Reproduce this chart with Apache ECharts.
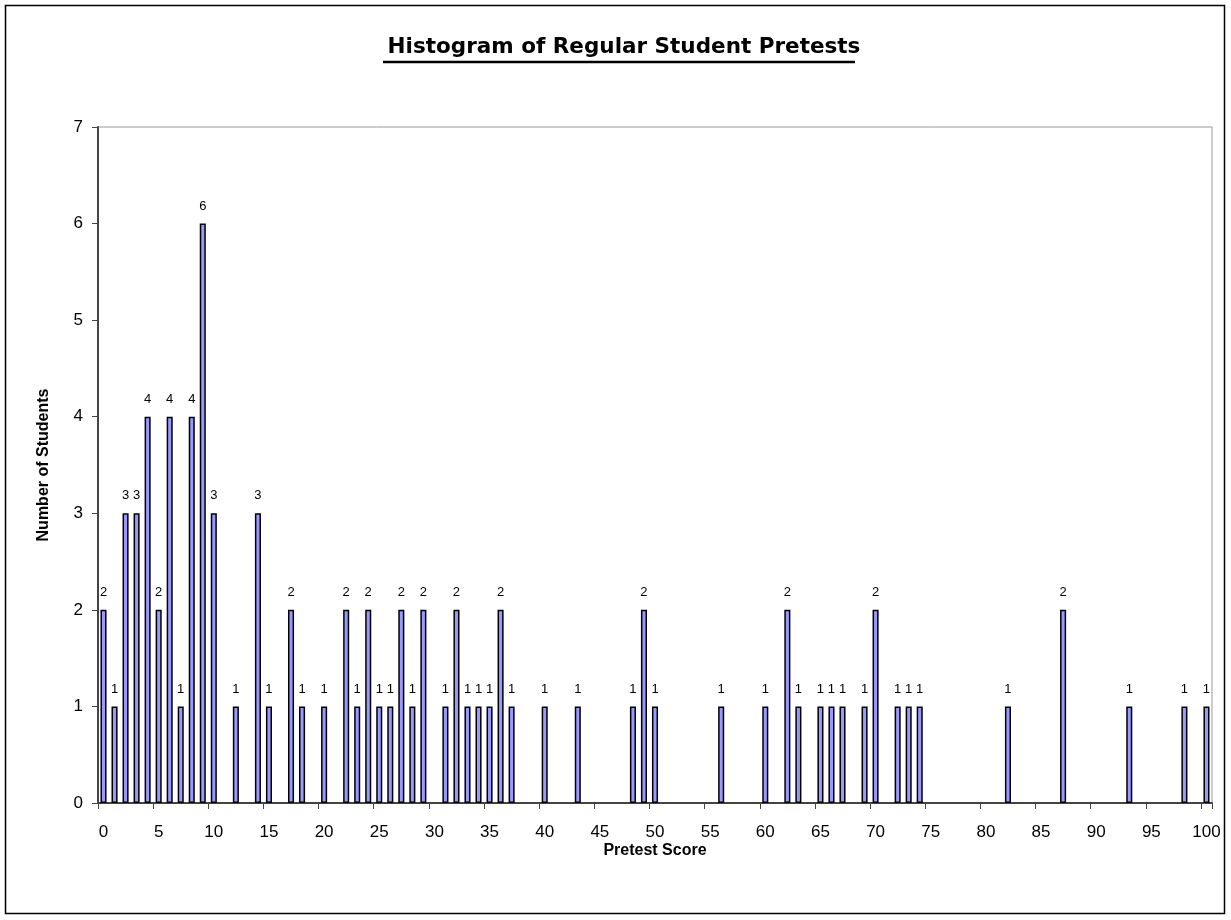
<!DOCTYPE html>
<html>
<head>
<meta charset="utf-8">
<script src="https://cdn.jsdelivr.net/npm/echarts@6/dist/echarts.min.js"></script>
<style>
html,body{margin:0;padding:0;background:#fff;}
#c{width:1231px;height:920px;}
</style>
</head>
<body>
<div id="c"></div>
<script>
// Pretest scores that occur, and how many students got each
var scores = [0,1,2,3,4,5,6,7,8,9,10,12,14,15,17,18,20,22,23,24,25,26,27,28,29,31,32,33,34,35,36,37,40,43,48,49,50,56,60,62,63,65,66,67,69,70,72,73,74,82,87,93,98,100];
var counts = [2,1,3,3,4,2,4,1,4,6,3,1,3,1,2,1,1,2,1,2,1,1,2,1,2,1,2,1,1,1,2,1,1,1,1,2,1,1,1,2,1,1,1,1,1,2,1,1,1,1,2,1,1,1];
var scoreMin = 0, scoreMax = 100;
var yTicks = [0,1,2,3,4,5,6,7];

var categories = [];
var values = [];
for (var s = scoreMin; s <= scoreMax; s++) {
  categories.push(String(s));
  var idx = scores.indexOf(s);
  values.push(idx >= 0 ? counts[idx] : '-');
}

var FONT = '"Liberation Sans", Arial, sans-serif';
var chart = echarts.init(document.getElementById('c'));
chart.setOption({
  animation: false,
  backgroundColor: '#fff',
  title: {
    text: 'Histogram of Regular Student Pretests',
    left: 619, top: 31, textAlign: 'center',
    textStyle: {fontFamily: '"DejaVu Sans", sans-serif', fontSize: 21.5, fontWeight: 'bold', color: '#000'}
  },
  grid: {left: 98, right: 19, top: 127, bottom: 117, show: true, borderColor: '#999', borderWidth: 1, backgroundColor: 'transparent'},
  xAxis: {
    type: 'category',
    data: categories,
    boundaryGap: true,
    name: 'Pretest Score',
    nameLocation: 'middle',
    nameGap: 40,
    nameMoveOverlap: false,
    nameTextStyle: {fontFamily: FONT, fontSize: 16, fontWeight: 'bold', color: '#000'},
    axisLine: {lineStyle: {color: '#444', width: 2}},
    axisTick: {show: true, interval: 4, length: 6, lineStyle: {color: '#444'}},
    axisLabel: {interval: 4, fontFamily: FONT, fontSize: 17, color: '#000', margin: 21},
    splitLine: {show: false}
  },
  yAxis: {
    type: 'value',
    min: yTicks[0], max: yTicks[yTicks.length - 1], interval: 1,
    name: 'Number of Students',
    nameLocation: 'middle',
    nameGap: 46,
    nameMoveOverlap: false,
    nameTextStyle: {fontFamily: FONT, fontSize: 16, fontWeight: 'bold', color: '#000'},
    axisLine: {show: true, lineStyle: {color: '#444', width: 2}},
    axisTick: {show: true, length: 6, lineStyle: {color: '#444'}},
    axisLabel: {fontFamily: FONT, fontSize: 17, color: '#000', margin: 15},
    splitLine: {show: false}
  },
  series: [{
    type: 'bar',
    data: values,
    barWidth: '55%',
    itemStyle: {color: '#9999FF', borderColor: '#000', borderWidth: 1.5},
    label: {show: true, position: 'top', distance: 11, fontFamily: FONT, fontSize: 13, color: '#000'}
  }],
  graphic: [
    {type: 'rect', shape: {x: 5.5, y: 5.5, width: 1219, height: 908}, style: {fill: 'none', stroke: '#000', lineWidth: 1.5}, z: 100},
    {type: 'line', shape: {x1: 383, y1: 62, x2: 855, y2: 62}, style: {stroke: '#000', lineWidth: 2.5}, z: 100}
  ]
});
</script>
</body>
</html>
